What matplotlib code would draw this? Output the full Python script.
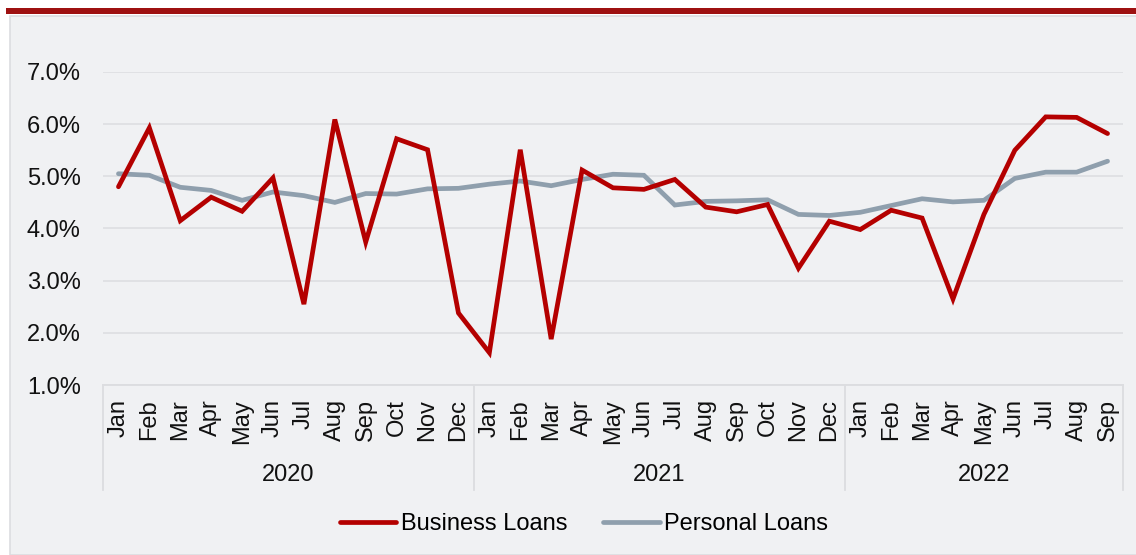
import matplotlib
matplotlib.use("Agg")
import matplotlib.pyplot as plt
from matplotlib.patches import Rectangle
from matplotlib.transforms import blended_transform_factory

plt.rcParams['font.family'] = ['Liberation Sans', 'DejaVu Sans']

months = ["Jan", "Feb", "Mar", "Apr", "May", "Jun", "Jul", "Aug", "Sep", "Oct", "Nov", "Dec",
          "Jan", "Feb", "Mar", "Apr", "May", "Jun", "Jul", "Aug", "Sep", "Oct", "Nov", "Dec",
          "Jan", "Feb", "Mar", "Apr", "May", "Jun", "Jul", "Aug", "Sep"]
years = ["2020", "2021", "2022"]
year_counts = [12, 12, 9]

business_loans = [4.80, 5.93, 4.15, 4.60, 4.33, 4.97, 2.55, 6.09, 3.74, 5.72, 5.51, 2.38,
                  1.62, 5.51, 1.88, 5.12, 4.78, 4.75, 4.94, 4.41, 4.32, 4.46, 3.24, 4.14,
                  3.98, 4.35, 4.20, 2.65, 4.27, 5.50, 6.14, 6.13, 5.82]
personal_loans = [5.05, 5.02, 4.79, 4.73, 4.54, 4.70, 4.63, 4.50, 4.67, 4.66, 4.76, 4.77,
                  4.85, 4.91, 4.82, 4.94, 5.04, 5.02, 4.45, 4.52, 4.53, 4.55, 4.27, 4.25,
                  4.31, 4.44, 4.57, 4.51, 4.54, 4.96, 5.08, 5.08, 5.29]
y_ticks = [1, 2, 3, 4, 5, 6, 7]

W, H = 1136, 555
fig = plt.figure(figsize=(W / 100, H / 100), dpi=100)
fig.patch.set_facecolor("white")

# background panel and top red bar
fig.patches.append(Rectangle((10 / W, 0), 1 - 10 / W + 0.01, 1 - 16 / H, transform=fig.transFigure,
                             facecolor="#f0f1f3", edgecolor="#dcdde0", linewidth=1.2, zorder=-10))
fig.patches.append(Rectangle((6 / W, 1 - 14 / H), 1, 6 / H, transform=fig.transFigure,
                             facecolor="#9e1111", edgecolor="none", zorder=-9))

ax_left, ax_right, ax_top, ax_bottom = 103, 1123, 72, 385
ax = fig.add_axes([ax_left / W, 1 - ax_bottom / H, (ax_right - ax_left) / W, (ax_bottom - ax_top) / H])
ax.set_facecolor("none")
ax.set_zorder(5)

x = list(range(len(months)))
ax.plot(x, business_loans, color="#b40000", linewidth=3.4, solid_capstyle="round",
        solid_joinstyle="miter", label="Business Loans", zorder=3, clip_on=False)
ax.plot(x, personal_loans, color="#8f9fad", linewidth=3.4, solid_capstyle="round",
        solid_joinstyle="miter", label="Personal Loans", zorder=2, clip_on=False)

ax.set_xlim(-0.5, len(months) - 0.5)
ax.set_ylim(1, 7)
ax.set_yticks(y_ticks)
ax.set_yticklabels([f"{v:.1f}%" for v in y_ticks])
ax.yaxis.grid(True, color="#dfe0e3", linewidth=1.3)
ax.set_axisbelow(True)
for s in ["top", "right", "left"]:
    ax.spines[s].set_visible(False)
ax.spines["bottom"].set_color("#dcdde0")
ax.spines["bottom"].set_linewidth(1.3)

ax.set_xticks(x)
ax.set_xticklabels(months, rotation=90, fontsize=17, color="#111111")
ax.tick_params(axis="x", length=0, pad=10)
ax.tick_params(axis="y", length=0, pad=16, labelsize=17, labelcolor="#111111")

trans = blended_transform_factory(ax.transData, ax.transAxes)
yfrac_bottom = (ax_bottom - 490) / (ax_bottom - ax_top)
yfrac_year = (ax_bottom - 475) / (ax_bottom - ax_top)
start = -0.5
bounds = [start]
for cnt in year_counts:
    bounds.append(bounds[-1] + cnt)
for b in bounds:
    ax.plot([b, b], [0, yfrac_bottom], transform=trans, color="#dcdde0", linewidth=1.3, clip_on=False)
for i, yr in enumerate(years):
    ax.text((bounds[i] + bounds[i + 1]) / 2, yfrac_year, yr, transform=trans, ha="center", va="center",
            fontsize=17, color="#111111")

fig.legend(loc="center", bbox_to_anchor=(584 / W, 1 - 524 / H), ncol=2, frameon=False,
           fontsize=17, handlelength=2.4, handletextpad=0.2, columnspacing=1.5)

fig.savefig("out.png", dpi=100, facecolor=fig.get_facecolor())
